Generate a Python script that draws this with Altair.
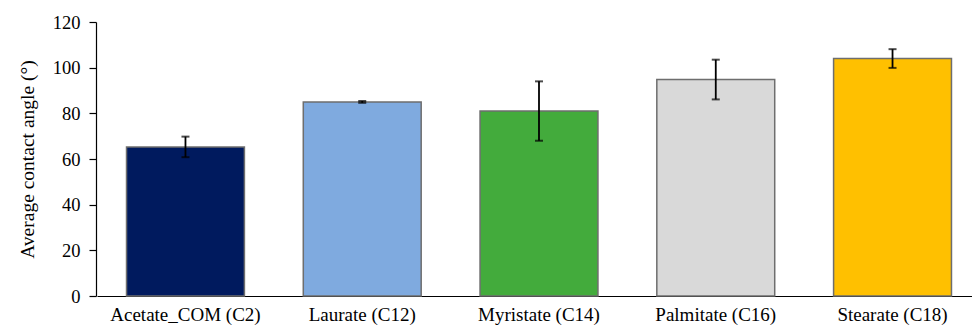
import altair as alt
import pandas as pd

categories = ["Acetate_COM (C2)", "Laurate (C12)", "Myristate (C14)", "Palmitate (C16)", "Stearate (C18)"]
values = [65.3, 85.0, 81.0, 94.8, 104.0]
errors = [4.5, 0.4, 13.0, 8.7, 4.1]
colors = ["#001A5E", "#7FAADF", "#43AB3C", "#D9D9D9", "#FFC000"]

df = pd.DataFrame({
    "cat": categories,
    "val": values,
    "lo": [v - e for v, e in zip(values, errors)],
    "hi": [v + e for v, e in zip(values, errors)],
    "color": colors,
})

FONT = "Liberation Serif"

x_scale = alt.Scale(paddingInner=0.333, paddingOuter=0.167, range=[1, 885])
x = alt.X("cat:N", sort=categories, scale=x_scale,
          axis=alt.Axis(title=None, labelAngle=0, ticks=False, labelPadding=9,
                        labelFontSize=19, labelFont=FONT, labelColor="black",
                        domainColor="black", domainWidth=1.2))

y_scale = alt.Scale(domain=[0, 120])

bars = alt.Chart(df).mark_bar(stroke="#6E6E6E", strokeWidth=1.5).encode(
    x=x,
    y=alt.Y("val:Q", scale=y_scale,
            axis=alt.Axis(title="Average contact angle (°)", values=[0, 20, 40, 60, 80, 100, 120],
                          grid=False, tickSize=7, tickColor="black", domainColor="black",
                          domainWidth=1.2, tickWidth=1.2,
                          labelFontSize=18.5, labelFont=FONT, labelColor="black", labelPadding=9,
                          titleFontSize=19.5, titleFont=FONT, titleFontWeight="normal",
                          titleColor="black", titlePadding=15)),
    color=alt.Color("color:N", scale=None),
)

rules = alt.Chart(df).mark_rule(color="black", strokeWidth=1.8).encode(
    x=alt.X("cat:N", sort=categories, scale=x_scale), y=alt.Y("lo:Q", scale=y_scale), y2="hi:Q"
)
cap_lo = alt.Chart(df).mark_tick(color="black", thickness=2, size=8, orient="horizontal").encode(
    x=alt.X("cat:N", sort=categories, scale=x_scale), y=alt.Y("lo:Q", scale=y_scale)
)
cap_hi = alt.Chart(df).mark_tick(color="black", thickness=2, size=8, orient="horizontal").encode(
    x=alt.X("cat:N", sort=categories, scale=x_scale), y=alt.Y("hi:Q", scale=y_scale)
)

chart = alt.layer(bars, rules, cap_lo, cap_hi).properties(
    width=876, height=274,
    background="white",
    autosize=alt.AutoSizeParams(type="none"),
    padding={"left": 88, "top": 14, "right": 0, "bottom": 36},
).configure_view(strokeWidth=0, stroke="transparent")

chart.save("out.html", embed_options={"renderer": "svg", "actions": False})
